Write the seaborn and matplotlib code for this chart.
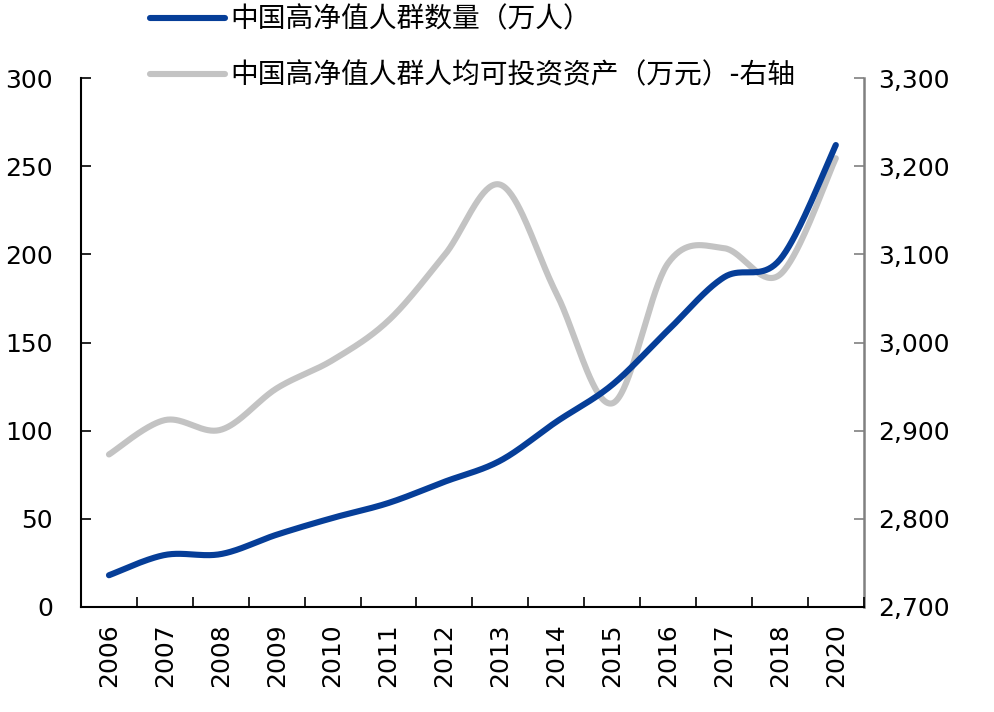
import numpy as np
import pandas as pd
import matplotlib
matplotlib.use('Agg')
import matplotlib.pyplot as plt
import seaborn as sns
from matplotlib.ticker import FuncFormatter, FixedLocator

years = ['2006', '2007', '2008', '2009', '2010', '2011', '2012',
         '2013', '2014', '2015', '2016', '2017', '2018', '2020']
hnw_count = [18, 29.5, 30, 41, 50.5, 59, 71, 83, 105, 126, 157, 187, 197, 262]
avg_assets = [2873, 2912, 2901, 2948, 2980, 3025, 3099, 3179, 3056, 2931,
              3090, 3107, 3077, 3209]

label_count = '中国高净值人群数量（万人）'
label_assets = '中国高净值人群人均可投资资产（万元）-右轴'

sns.set_style('ticks')
plt.rcParams['font.family'] = ['DejaVu Sans', 'Noto Sans CJK SC']
plt.rcParams['text.color'] = 'black'
plt.rcParams['xtick.color'] = 'black'
plt.rcParams['ytick.color'] = 'black'


def smooth(vals, n=40):
    # catmull-rom curve through the points, like excel's smoothed lines
    y = np.asarray(vals, dtype=float)
    x = np.arange(len(y), dtype=float)
    yp = np.concatenate([[y[0]], y, [y[-1]]])
    xp = np.concatenate([[x[0]], x, [x[-1]]])
    xs, ys = [], []
    t = np.linspace(0, 1, n, endpoint=False)
    for i in range(len(y) - 1):
        for arr, out in ((xp, xs), (yp, ys)):
            p0, p1, p2, p3 = arr[i], arr[i + 1], arr[i + 2], arr[i + 3]
            c1 = p1 + (p2 - p0) / 6
            c2 = p2 - (p3 - p1) / 6
            out.extend((1 - t) ** 3 * p1 + 3 * (1 - t) ** 2 * t * c1
                       + 3 * (1 - t) * t ** 2 * c2 + t ** 3 * p2)
    xs.append(x[-1])
    ys.append(y[-1])
    return pd.DataFrame({'x': xs, 'y': ys})


blue = '#063E98'
grey = '#C3C3C3'

fig = plt.figure(figsize=(9.94, 7.12), dpi=100)
ax = fig.add_axes([0.0815, 0.1475, 0.7875, 0.7429])
ax2 = ax.twinx()

c = smooth(hnw_count)
a = smooth(avg_assets)
sns.lineplot(data=a, x='x', y='y', sort=False, ax=ax2, color=grey, lw=4.4,
             solid_capstyle='round', label=label_assets, legend=False)
sns.lineplot(data=c, x='x', y='y', sort=False, ax=ax, color=blue, lw=4.4,
             solid_capstyle='round', label=label_count, legend=False)
ax.set_zorder(ax2.get_zorder() + 1)
ax.patch.set_visible(False)

ax.set_xlim(-0.5, len(years) - 0.5)
ax.set_ylim(0, 300)
ax2.set_ylim(2700, 3300)
ax.set_yticks(range(0, 301, 50))
ax2.set_yticks(range(2700, 3301, 100))
ax2.yaxis.set_major_formatter(FuncFormatter(lambda v, p: f'{int(v):,}'))

ax.xaxis.set_major_locator(FixedLocator(np.arange(0.5, len(years), 1)))
ax.xaxis.set_minor_locator(FixedLocator(np.arange(len(years))))
ax.set_xticklabels([], minor=False)
ax.set_xticklabels(years, minor=True, rotation=90)
ax.tick_params(axis='x', which='major', direction='in', length=7, width=1.2)
ax.tick_params(axis='x', which='minor', length=0, labelsize=18, pad=12)
ax.tick_params(axis='y', direction='in', length=7, width=1.2, labelsize=18, pad=20)
ax2.tick_params(axis='y', direction='in', length=7, width=1.2, labelsize=18,
                pad=10, color='#808080')
ax.set_xlabel('')
ax.set_ylabel('')
ax2.set_ylabel('')

ax.spines['top'].set_visible(False)
ax2.spines['top'].set_visible(False)
ax.spines['right'].set_visible(False)
ax.spines['left'].set_linewidth(1.5)
ax.spines['bottom'].set_linewidth(1.5)
ax.spines['left'].set_color('black')
ax.spines['bottom'].set_color('black')
ax2.spines['left'].set_visible(False)
ax2.spines['bottom'].set_visible(False)
ax2.spines['right'].set_color('#808080')
ax2.spines['right'].set_linewidth(1.8)

h1, l1 = ax.get_legend_handles_labels()
h2, l2 = ax2.get_legend_handles_labels()
fig.legend(h1 + h2, l1 + l2, loc='upper left', bbox_to_anchor=(0.151, 0.992),
           frameon=False, fontsize=20, handlelength=2.7, handletextpad=0.2,
           labelspacing=1.0, borderpad=0, borderaxespad=0)

fig.savefig('out.png', dpi=100)
